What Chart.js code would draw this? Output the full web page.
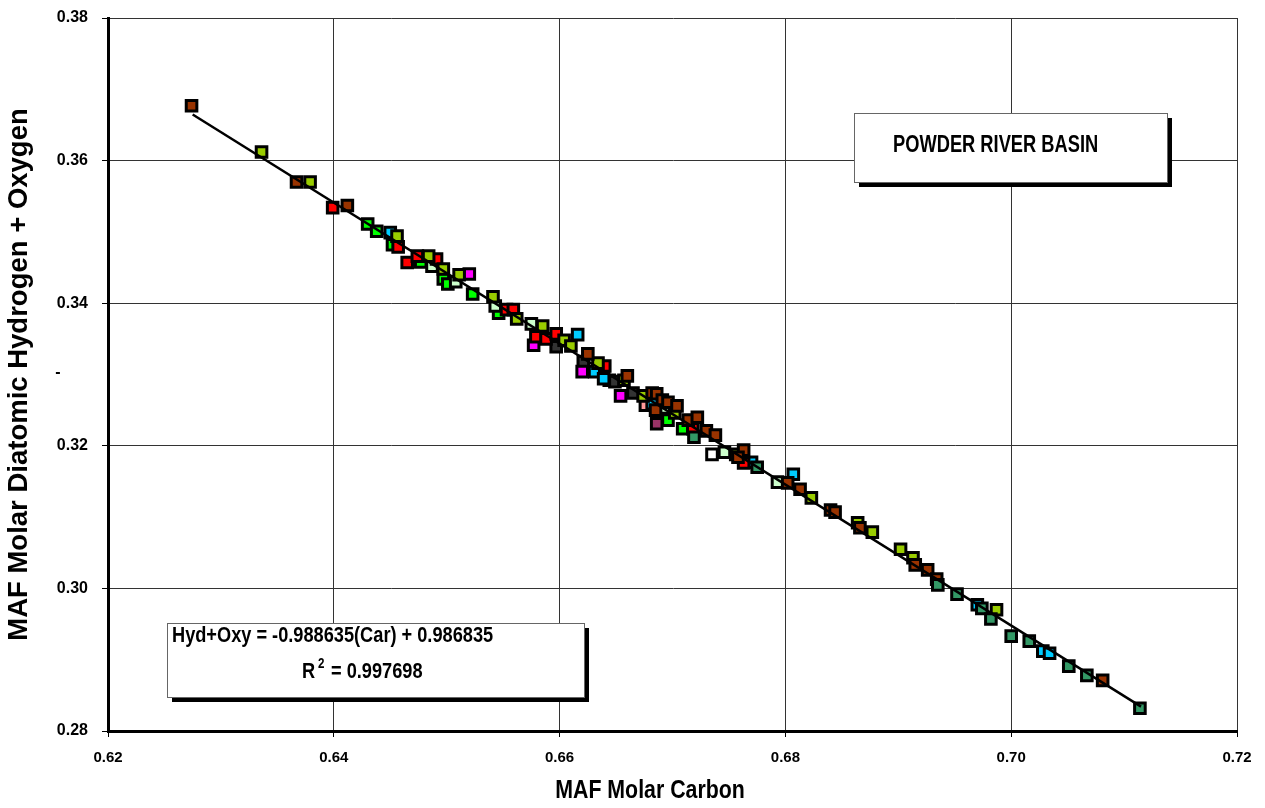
<!DOCTYPE html>
<html><head><meta charset="utf-8">
<script src="https://cdn.jsdelivr.net/npm/chart.js@4.4.0/dist/chart.umd.min.js"></script>
<style>html,body{margin:0;padding:0;background:#fff;overflow:hidden}canvas{display:block}</style>
</head><body>
<canvas id="c" width="1265" height="808"></canvas>
<script>
// ---- tick labels ----
const xTicks = [0.62, 0.64, 0.66, 0.68, 0.70, 0.72];
const yTicks = [0.28, 0.30, 0.32, 0.34, 0.36, 0.38];

// ---- series values (MAF molar carbon, MAF molar H2 + O) ----
const brownX = [0.6274,0.6367,0.6412,0.6625,0.6660,0.6682,0.6686,0.6691,0.6696,0.6704,0.6685,0.6714,0.6722,0.6730,0.6738,0.6763,0.6758,0.6802,0.6813,0.6840,0.6844,0.6866,0.6915,0.6926,0.6934,0.7081];
const brownY = [0.3677,0.3570,0.3537,0.3329,0.3298,0.3274,0.3273,0.3264,0.3261,0.3256,0.3250,0.3236,0.3240,0.3221,0.3215,0.3194,0.3184,0.3148,0.3139,0.3110,0.3107,0.3085,0.3033,0.3026,0.3013,0.2871];

const ygX = [0.6336,0.6379,0.6456,0.6484,0.6497,0.6511,0.6541,0.6562,0.6585,0.6604,0.6610,0.6634,0.6657,0.6674,0.6702,0.6756,0.6823,0.6864,0.6877,0.6902,0.6913,0.6987];
const ygY = [0.3612,0.3570,0.3494,0.3466,0.3448,0.3440,0.3409,0.3378,0.3368,0.3348,0.3340,0.3316,0.3292,0.3270,0.3246,0.3188,0.3127,0.3092,0.3079,0.3055,0.3043,0.2970];

const redX = [0.6399,0.6457,0.6465,0.6474,0.6491,0.6553,0.6559,0.6579,0.6588,0.6597,0.6640,0.6718,0.6763];
const redY = [0.3534,0.3479,0.3457,0.3466,0.3462,0.3391,0.3391,0.3353,0.3350,0.3357,0.3312,0.3224,0.3176];

const greenX = [0.6430,0.6438,0.6452,0.6477,0.6497,0.6501,0.6523,0.6546,0.6696,0.6709];
const greenY = [0.3511,0.3501,0.3482,0.3458,0.3434,0.3427,0.3413,0.3386,0.3236,0.3224];

const cyanX = [0.6450,0.6616,0.6631,0.6639,0.6682,0.6770,0.6807,0.6970,0.7028,0.7034];
const cyanY = [0.3499,0.3356,0.3304,0.3294,0.3259,0.3177,0.3160,0.2977,0.2912,0.2909];

const magentaX = [0.6520,0.6577,0.6620,0.6654];
const magentaY = [0.3441,0.3341,0.3304,0.3270];

const grayX = [0.6597,0.6621,0.6649,0.6665];
const grayY = [0.3339,0.3318,0.3290,0.3274];

const paleX = [0.6487,0.6508,0.6543,0.6575,0.6644,0.6694,0.6746,0.6793];
const paleY = [0.3452,0.3430,0.3396,0.3371,0.3292,0.3253,0.3191,0.3149];

const whiteX = [0.6735];
const whiteY = [0.3188];

const seaX = [0.6719,0.6775,0.6935,0.6952,0.6974,0.6982,0.7000,0.7016,0.7051,0.7067,0.7114];
const seaY = [0.3212,0.3170,0.3005,0.2992,0.2972,0.2957,0.2933,0.2926,0.2891,0.2878,0.2832];

const plumX = [0.6686];
const plumY = [0.3231];

const pinkX = [0.6676];
const pinkY = [0.3257];

// ---- regression fit shown on the chart ----
const fitSlope = -0.988635;
const fitIntercept = 0.986835;
const fitRangeX = [0.6275, 0.7115];

const FONT = '"Liberation Sans", Arial, sans-serif';

function pts(xs, ys) { return xs.map((x, i) => ({ x: x, y: ys[i] })); }
function series(label, xs, ys, color) {
  return {
    type: 'scatter', label: label, data: pts(xs, ys),
    pointStyle: 'rect', pointRadius: 7.5, pointHoverRadius: 7.5,
    backgroundColor: color, borderColor: '#000', borderWidth: 3, showLine: false
  };
}

const fitLine = {
  type: 'line', label: 'fit',
  data: fitRangeX.map(x => ({ x: x, y: fitSlope * x + fitIntercept })),
  borderColor: '#000', borderWidth: 2.5, pointRadius: 0, fill: false, tension: 0
};

// condensed bold text (horizontally squeezed), as in the original
function narrowText(ctx, text, x, y, size, align, baseline, sx) {
  ctx.save();
  ctx.font = 'bold ' + size + 'px ' + FONT;
  ctx.textAlign = align;
  ctx.textBaseline = baseline;
  ctx.fillStyle = '#000';
  ctx.translate(x, y);
  ctx.scale(sx, 1);
  ctx.fillText(text, 0, 0);
  ctx.restore();
}

const annotations = {
  id: 'annotations',
  afterDraw(chart) {
    const ctx = chart.ctx;
    ctx.save();
    function box(x, y, w, h) {
      ctx.fillStyle = '#000';
      ctx.fillRect(x + 5, y + 5, w, h);
      ctx.fillStyle = '#fff';
      ctx.fillRect(x, y, w, h);
      ctx.strokeStyle = '#666';
      ctx.lineWidth = 1;
      ctx.strokeRect(x + 0.5, y + 0.5, w, h);
    }
    box(854, 113, 313, 69);
    box(167, 623, 417, 74);
    ctx.restore();
    narrowText(ctx, 'POWDER RIVER BASIN', 893, 152, 23, 'left', 'alphabetic', 0.795);
    narrowText(ctx, 'Hyd+Oxy = -0.988635(Car) + 0.986835', 172, 642, 22, 'left', 'alphabetic', 0.827);
    narrowText(ctx, 'R', 302, 678, 22, 'left', 'alphabetic', 0.827);
    narrowText(ctx, '2', 318, 668, 14, 'left', 'alphabetic', 0.827);
    narrowText(ctx, '= 0.997698', 331, 678, 22, 'left', 'alphabetic', 0.827);
    narrowText(ctx, 'MAF Molar Carbon', 650, 791, 26, 'center', 'middle', 0.82);
    narrowText(ctx, '-', 58, 373, 16, 'center', 'middle', 1);
  }
};

Chart.defaults.font.family = FONT;
Chart.defaults.color = '#000';

new Chart(document.getElementById('c'), {
  data: {
    datasets: [
      fitLine,
      series('Sea green', seaX, seaY, '#339966'),
      series('Brown', brownX, brownY, '#993300'),
      series('Yellow green', ygX, ygY, '#99CC00'),
      series('Red', redX, redY, '#FF0000'),
      series('Cyan', cyanX, cyanY, '#00CCFF'),
      series('Magenta', magentaX, magentaY, '#FF00FF'),
      series('Gray', grayX, grayY, '#333333'),
      series('Plum', plumX, plumY, '#993366'),
      series('Pink', pinkX, pinkY, '#FF9999'),
      series('White', whiteX, whiteY, '#FFFFFF'),
      series('Pale green', paleX, paleY, '#CCFFCC'),
      series('Green', greenX, greenY, '#00FF00')
    ]
  },
  options: {
    responsive: false, animation: false, devicePixelRatio: 1,
    layout: { padding: { left: 0, top: 18, right: 28, bottom: 0 } },
    plugins: { legend: { display: false }, tooltip: { enabled: false } },
    scales: {
      x: {
        type: 'linear', min: 0.62, max: 0.72,
        afterBuildTicks: s => { s.ticks = xTicks.map(v => ({ value: v })); },
        afterFit: s => { s.height = 77; s.paddingLeft = 0; s.paddingRight = 0; },
        ticks: { callback: v => Number(v).toFixed(2), font: { size: 15, weight: 'bold', family: FONT }, color: '#000', padding: 12, maxRotation: 0 },
        grid: { color: '#333', lineWidth: 1, tickLength: 6, tickColor: '#000' },
        border: { display: true, color: '#000', width: 3 },
        title: { display: false }
      },
      y: {
        type: 'linear', min: 0.28, max: 0.38,
        afterBuildTicks: s => { s.ticks = yTicks.map(v => ({ value: v })); },
        afterFit: s => { s.width = 108; s.paddingTop = 0; s.paddingBottom = 0; },
        ticks: { callback: v => Number(v).toFixed(2), font: { size: 16, weight: 'bold', family: FONT }, color: '#000', padding: 14 },
        grid: { color: '#333', lineWidth: 1, tickLength: 6, tickColor: '#000' },
        border: { display: true, color: '#000', width: 3 },
        title: { display: true, text: 'MAF Molar Diatomic Hydrogen + Oxygen', font: { size: 27.5, weight: 'bold', family: FONT }, color: '#000', padding: { top: 3, bottom: 0 } }
      }
    }
  },
  plugins: [annotations]
});
</script>
</body></html>
